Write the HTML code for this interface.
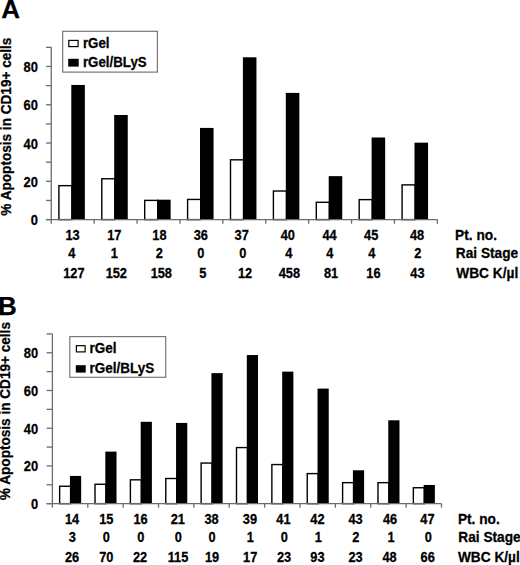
<!DOCTYPE html>
<html><head><meta charset="utf-8"><style>
html,body{margin:0;padding:0;background:#fff;}
body{width:520px;height:565px;overflow:hidden;}
svg{display:block;}
.b{font-family:"Liberation Sans",sans-serif;font-weight:bold;fill:#000;stroke:#000;stroke-width:0.25px;}
</style></head><body>
<svg width="520" height="565" viewBox="0 0 520 565">
<rect width="520" height="565" fill="#fff"/>
<text x="1.3" y="17.8" font-size="26" class="b">A</text>
<text transform="translate(11.3,126.65) rotate(-90) scale(1,1.08)" text-anchor="middle" font-size="13.6" class="b">% Apoptosis in CD19+ cells</text>
<rect x="58.90" y="185.66" width="13.10" height="33.94" fill="#fff" stroke="#000" stroke-width="1.4"/>
<rect x="71.30" y="84.95" width="13.55" height="134.65" fill="#000"/>
<rect x="101.80" y="178.77" width="13.10" height="40.83" fill="#fff" stroke="#000" stroke-width="1.4"/>
<rect x="114.20" y="115.00" width="13.55" height="104.60" fill="#000"/>
<rect x="144.70" y="200.39" width="13.10" height="19.21" fill="#fff" stroke="#000" stroke-width="1.4"/>
<rect x="157.10" y="199.69" width="13.55" height="19.91" fill="#000"/>
<rect x="187.60" y="199.44" width="13.10" height="20.16" fill="#fff" stroke="#000" stroke-width="1.4"/>
<rect x="200.00" y="127.92" width="13.55" height="91.68" fill="#000"/>
<rect x="230.50" y="159.82" width="13.10" height="59.78" fill="#fff" stroke="#000" stroke-width="1.4"/>
<rect x="242.90" y="57.29" width="13.55" height="162.31" fill="#000"/>
<rect x="273.40" y="191.02" width="13.10" height="28.58" fill="#fff" stroke="#000" stroke-width="1.4"/>
<rect x="285.80" y="92.89" width="13.55" height="126.71" fill="#000"/>
<rect x="316.30" y="202.31" width="13.10" height="17.29" fill="#fff" stroke="#000" stroke-width="1.4"/>
<rect x="328.70" y="176.15" width="13.55" height="43.45" fill="#000"/>
<rect x="359.20" y="199.63" width="13.10" height="19.97" fill="#fff" stroke="#000" stroke-width="1.4"/>
<rect x="371.60" y="137.49" width="13.55" height="82.11" fill="#000"/>
<rect x="402.10" y="184.89" width="13.10" height="34.71" fill="#fff" stroke="#000" stroke-width="1.4"/>
<rect x="414.50" y="142.66" width="13.55" height="76.94" fill="#000"/>
<line x1="51.25" y1="47.34" x2="51.25" y2="223.7" stroke="#6b6b6b" stroke-width="1.3"/>
<line x1="46.05" y1="219.6" x2="437.34999999999997" y2="219.6" stroke="#6b6b6b" stroke-width="1.3"/>
<line x1="46.05" y1="219.60" x2="51.25" y2="219.60" stroke="#6b6b6b" stroke-width="1.3"/>
<line x1="46.05" y1="200.46" x2="51.25" y2="200.46" stroke="#6b6b6b" stroke-width="1.3"/>
<line x1="46.05" y1="181.32" x2="51.25" y2="181.32" stroke="#6b6b6b" stroke-width="1.3"/>
<line x1="46.05" y1="162.18" x2="51.25" y2="162.18" stroke="#6b6b6b" stroke-width="1.3"/>
<line x1="46.05" y1="143.04" x2="51.25" y2="143.04" stroke="#6b6b6b" stroke-width="1.3"/>
<line x1="46.05" y1="123.90" x2="51.25" y2="123.90" stroke="#6b6b6b" stroke-width="1.3"/>
<line x1="46.05" y1="104.76" x2="51.25" y2="104.76" stroke="#6b6b6b" stroke-width="1.3"/>
<line x1="46.05" y1="85.62" x2="51.25" y2="85.62" stroke="#6b6b6b" stroke-width="1.3"/>
<line x1="46.05" y1="66.48" x2="51.25" y2="66.48" stroke="#6b6b6b" stroke-width="1.3"/>
<line x1="46.05" y1="47.34" x2="51.25" y2="47.34" stroke="#6b6b6b" stroke-width="1.3"/>
<line x1="94.15" y1="219.6" x2="94.15" y2="223.7" stroke="#6b6b6b" stroke-width="1.3"/>
<line x1="137.05" y1="219.6" x2="137.05" y2="223.7" stroke="#6b6b6b" stroke-width="1.3"/>
<line x1="179.95" y1="219.6" x2="179.95" y2="223.7" stroke="#6b6b6b" stroke-width="1.3"/>
<line x1="222.85" y1="219.6" x2="222.85" y2="223.7" stroke="#6b6b6b" stroke-width="1.3"/>
<line x1="265.75" y1="219.6" x2="265.75" y2="223.7" stroke="#6b6b6b" stroke-width="1.3"/>
<line x1="308.65" y1="219.6" x2="308.65" y2="223.7" stroke="#6b6b6b" stroke-width="1.3"/>
<line x1="351.55" y1="219.6" x2="351.55" y2="223.7" stroke="#6b6b6b" stroke-width="1.3"/>
<line x1="394.45" y1="219.6" x2="394.45" y2="223.7" stroke="#6b6b6b" stroke-width="1.3"/>
<line x1="437.35" y1="219.6" x2="437.35" y2="223.7" stroke="#6b6b6b" stroke-width="1.3"/>
<text transform="translate(37.90,225.10) scale(1.0,1.1)" text-anchor="end" font-size="12.9" class="b">0</text>
<text transform="translate(37.90,186.82) scale(1.0,1.1)" text-anchor="end" font-size="12.9" class="b">20</text>
<text transform="translate(37.90,148.54) scale(1.0,1.1)" text-anchor="end" font-size="12.9" class="b">40</text>
<text transform="translate(37.90,110.26) scale(1.0,1.1)" text-anchor="end" font-size="12.9" class="b">60</text>
<text transform="translate(37.90,71.98) scale(1.0,1.1)" text-anchor="end" font-size="12.9" class="b">80</text>
<rect x="62.7" y="31.3" width="94.7" height="40.8" fill="#fff" stroke="#777" stroke-width="1.2"/>
<rect x="68.8" y="40.4" width="9.3" height="6.2000000000000055" fill="#fff" stroke="#000" stroke-width="1.2"/>
<rect x="68.2" y="58.8" width="10.5" height="7.799999999999997" fill="#000"/>
<text transform="translate(82.90,47.60) scale(1.0,1.06)" font-size="13.3" class="b">rGel</text>
<text transform="translate(82.90,66.60) scale(1.0,1.06)" font-size="13.3" class="b">rGel/BLyS</text>
<text transform="translate(72.50,239.60) scale(1.0,1.1)" text-anchor="middle" font-size="12.8" class="b">13</text>
<text transform="translate(114.30,239.60) scale(1.0,1.1)" text-anchor="middle" font-size="12.8" class="b">17</text>
<text transform="translate(159.40,239.60) scale(1.0,1.1)" text-anchor="middle" font-size="12.8" class="b">18</text>
<text transform="translate(200.80,239.60) scale(1.0,1.1)" text-anchor="middle" font-size="12.8" class="b">36</text>
<text transform="translate(241.70,239.60) scale(1.0,1.1)" text-anchor="middle" font-size="12.8" class="b">37</text>
<text transform="translate(287.80,239.60) scale(1.0,1.1)" text-anchor="middle" font-size="12.8" class="b">40</text>
<text transform="translate(329.60,239.60) scale(1.0,1.1)" text-anchor="middle" font-size="12.8" class="b">44</text>
<text transform="translate(371.20,239.60) scale(1.0,1.1)" text-anchor="middle" font-size="12.8" class="b">45</text>
<text transform="translate(417.00,239.60) scale(1.0,1.1)" text-anchor="middle" font-size="12.8" class="b">48</text>
<text transform="translate(455.10,239.60) scale(1.0,1.06)" font-size="13.7" class="b">Pt. no.</text>
<text transform="translate(71.90,257.50) scale(1.0,1.1)" text-anchor="middle" font-size="12.8" class="b">4</text>
<text transform="translate(114.30,257.50) scale(1.0,1.1)" text-anchor="middle" font-size="12.8" class="b">1</text>
<text transform="translate(159.20,257.50) scale(1.0,1.1)" text-anchor="middle" font-size="12.8" class="b">2</text>
<text transform="translate(200.80,257.50) scale(1.0,1.1)" text-anchor="middle" font-size="12.8" class="b">0</text>
<text transform="translate(242.80,257.50) scale(1.0,1.1)" text-anchor="middle" font-size="12.8" class="b">0</text>
<text transform="translate(288.70,257.50) scale(1.0,1.1)" text-anchor="middle" font-size="12.8" class="b">4</text>
<text transform="translate(329.90,257.50) scale(1.0,1.1)" text-anchor="middle" font-size="12.8" class="b">4</text>
<text transform="translate(371.90,257.50) scale(1.0,1.1)" text-anchor="middle" font-size="12.8" class="b">4</text>
<text transform="translate(417.70,257.50) scale(1.0,1.1)" text-anchor="middle" font-size="12.8" class="b">2</text>
<text transform="translate(455.80,257.50) scale(1.0,1.06)" font-size="13.7" class="b">Rai Stage</text>
<text transform="translate(73.90,277.70) scale(1.0,1.1)" text-anchor="middle" font-size="12.8" class="b">127</text>
<text transform="translate(116.30,277.70) scale(1.0,1.1)" text-anchor="middle" font-size="12.8" class="b">152</text>
<text transform="translate(161.30,277.70) scale(1.0,1.1)" text-anchor="middle" font-size="12.8" class="b">158</text>
<text transform="translate(202.90,277.70) scale(1.0,1.1)" text-anchor="middle" font-size="12.8" class="b">5</text>
<text transform="translate(245.00,277.70) scale(1.0,1.1)" text-anchor="middle" font-size="12.8" class="b">12</text>
<text transform="translate(289.40,277.70) scale(1.0,1.1)" text-anchor="middle" font-size="12.8" class="b">458</text>
<text transform="translate(331.10,277.70) scale(1.0,1.1)" text-anchor="middle" font-size="12.8" class="b">81</text>
<text transform="translate(373.40,277.70) scale(1.0,1.1)" text-anchor="middle" font-size="12.8" class="b">16</text>
<text transform="translate(417.40,277.70) scale(1.0,1.1)" text-anchor="middle" font-size="12.8" class="b">43</text>
<text transform="translate(456.30,277.70) scale(1.0,1.06)" font-size="13.7" class="b">WBC K/µl</text>
<text x="-1.9" y="314.5" font-size="26" class="b">B</text>
<text transform="translate(10.3,411.1) rotate(-90) scale(1,1.08)" text-anchor="middle" font-size="13.6" class="b">% Apoptosis in CD19+ cells</text>
<rect x="59.65" y="486.24" width="11.00" height="17.41" fill="#fff" stroke="#000" stroke-width="1.4"/>
<rect x="69.95" y="475.93" width="11.20" height="27.72" fill="#000"/>
<rect x="95.02" y="484.26" width="11.00" height="19.39" fill="#fff" stroke="#000" stroke-width="1.4"/>
<rect x="105.32" y="451.60" width="11.20" height="52.05" fill="#000"/>
<rect x="130.39" y="479.83" width="11.00" height="23.82" fill="#fff" stroke="#000" stroke-width="1.4"/>
<rect x="140.69" y="421.80" width="11.20" height="81.85" fill="#000"/>
<rect x="165.76" y="478.51" width="11.00" height="25.14" fill="#fff" stroke="#000" stroke-width="1.4"/>
<rect x="176.06" y="422.93" width="11.20" height="80.72" fill="#000"/>
<rect x="201.13" y="463.05" width="11.00" height="40.60" fill="#fff" stroke="#000" stroke-width="1.4"/>
<rect x="211.43" y="373.14" width="11.20" height="130.51" fill="#000"/>
<rect x="236.50" y="447.58" width="11.00" height="56.07" fill="#fff" stroke="#000" stroke-width="1.4"/>
<rect x="246.80" y="355.03" width="11.20" height="148.62" fill="#000"/>
<rect x="271.87" y="464.56" width="11.00" height="39.09" fill="#fff" stroke="#000" stroke-width="1.4"/>
<rect x="282.17" y="371.63" width="11.20" height="132.02" fill="#000"/>
<rect x="307.24" y="473.61" width="11.00" height="30.04" fill="#fff" stroke="#000" stroke-width="1.4"/>
<rect x="317.54" y="388.60" width="11.20" height="115.05" fill="#000"/>
<rect x="342.61" y="482.66" width="11.00" height="20.99" fill="#fff" stroke="#000" stroke-width="1.4"/>
<rect x="352.91" y="470.27" width="11.20" height="33.38" fill="#000"/>
<rect x="377.98" y="482.66" width="11.00" height="20.99" fill="#fff" stroke="#000" stroke-width="1.4"/>
<rect x="388.28" y="420.29" width="11.20" height="83.36" fill="#000"/>
<rect x="413.35" y="487.75" width="11.00" height="15.90" fill="#fff" stroke="#000" stroke-width="1.4"/>
<rect x="423.65" y="484.98" width="11.20" height="18.67" fill="#000"/>
<line x1="52.4" y1="333.90999999999997" x2="52.4" y2="507.65" stroke="#6b6b6b" stroke-width="1.3"/>
<line x1="46.6" y1="503.65" x2="441.46999999999997" y2="503.65" stroke="#6b6b6b" stroke-width="1.3"/>
<line x1="46.6" y1="503.65" x2="52.4" y2="503.65" stroke="#6b6b6b" stroke-width="1.3"/>
<line x1="46.6" y1="484.79" x2="52.4" y2="484.79" stroke="#6b6b6b" stroke-width="1.3"/>
<line x1="46.6" y1="465.93" x2="52.4" y2="465.93" stroke="#6b6b6b" stroke-width="1.3"/>
<line x1="46.6" y1="447.07" x2="52.4" y2="447.07" stroke="#6b6b6b" stroke-width="1.3"/>
<line x1="46.6" y1="428.21" x2="52.4" y2="428.21" stroke="#6b6b6b" stroke-width="1.3"/>
<line x1="46.6" y1="409.35" x2="52.4" y2="409.35" stroke="#6b6b6b" stroke-width="1.3"/>
<line x1="46.6" y1="390.49" x2="52.4" y2="390.49" stroke="#6b6b6b" stroke-width="1.3"/>
<line x1="46.6" y1="371.63" x2="52.4" y2="371.63" stroke="#6b6b6b" stroke-width="1.3"/>
<line x1="46.6" y1="352.77" x2="52.4" y2="352.77" stroke="#6b6b6b" stroke-width="1.3"/>
<line x1="46.6" y1="333.91" x2="52.4" y2="333.91" stroke="#6b6b6b" stroke-width="1.3"/>
<line x1="87.77" y1="503.65" x2="87.77" y2="507.65" stroke="#6b6b6b" stroke-width="1.3"/>
<line x1="123.14" y1="503.65" x2="123.14" y2="507.65" stroke="#6b6b6b" stroke-width="1.3"/>
<line x1="158.51" y1="503.65" x2="158.51" y2="507.65" stroke="#6b6b6b" stroke-width="1.3"/>
<line x1="193.88" y1="503.65" x2="193.88" y2="507.65" stroke="#6b6b6b" stroke-width="1.3"/>
<line x1="229.25" y1="503.65" x2="229.25" y2="507.65" stroke="#6b6b6b" stroke-width="1.3"/>
<line x1="264.62" y1="503.65" x2="264.62" y2="507.65" stroke="#6b6b6b" stroke-width="1.3"/>
<line x1="299.99" y1="503.65" x2="299.99" y2="507.65" stroke="#6b6b6b" stroke-width="1.3"/>
<line x1="335.36" y1="503.65" x2="335.36" y2="507.65" stroke="#6b6b6b" stroke-width="1.3"/>
<line x1="370.73" y1="503.65" x2="370.73" y2="507.65" stroke="#6b6b6b" stroke-width="1.3"/>
<line x1="406.10" y1="503.65" x2="406.10" y2="507.65" stroke="#6b6b6b" stroke-width="1.3"/>
<line x1="441.47" y1="503.65" x2="441.47" y2="507.65" stroke="#6b6b6b" stroke-width="1.3"/>
<text transform="translate(38.20,509.15) scale(1.0,1.1)" text-anchor="end" font-size="12.9" class="b">0</text>
<text transform="translate(38.20,471.43) scale(1.0,1.1)" text-anchor="end" font-size="12.9" class="b">20</text>
<text transform="translate(38.20,433.71) scale(1.0,1.1)" text-anchor="end" font-size="12.9" class="b">40</text>
<text transform="translate(38.20,395.99) scale(1.0,1.1)" text-anchor="end" font-size="12.9" class="b">60</text>
<text transform="translate(38.20,358.27) scale(1.0,1.1)" text-anchor="end" font-size="12.9" class="b">80</text>
<rect x="69.8" y="336.6" width="95.89999999999999" height="40.69999999999999" fill="#fff" stroke="#777" stroke-width="1.2"/>
<rect x="76.39999999999999" y="345.70000000000005" width="8.700000000000006" height="6.199999999999977" fill="#fff" stroke="#000" stroke-width="1.2"/>
<rect x="75.8" y="365.2" width="9.900000000000006" height="7.400000000000034" fill="#000"/>
<text transform="translate(89.40,353.10) scale(1.0,1.06)" font-size="13.5" class="b">rGel</text>
<text transform="translate(89.40,372.60) scale(1.0,1.06)" font-size="13.5" class="b">rGel/BLyS</text>
<text transform="translate(72.10,523.60) scale(1.0,1.1)" text-anchor="middle" font-size="12.8" class="b">14</text>
<text transform="translate(106.30,523.60) scale(1.0,1.1)" text-anchor="middle" font-size="12.8" class="b">15</text>
<text transform="translate(140.60,523.60) scale(1.0,1.1)" text-anchor="middle" font-size="12.8" class="b">16</text>
<text transform="translate(177.80,523.60) scale(1.0,1.1)" text-anchor="middle" font-size="12.8" class="b">21</text>
<text transform="translate(211.60,523.60) scale(1.0,1.1)" text-anchor="middle" font-size="12.8" class="b">38</text>
<text transform="translate(249.90,523.60) scale(1.0,1.1)" text-anchor="middle" font-size="12.8" class="b">39</text>
<text transform="translate(283.40,523.60) scale(1.0,1.1)" text-anchor="middle" font-size="12.8" class="b">41</text>
<text transform="translate(317.40,523.60) scale(1.0,1.1)" text-anchor="middle" font-size="12.8" class="b">42</text>
<text transform="translate(355.50,523.60) scale(1.0,1.1)" text-anchor="middle" font-size="12.8" class="b">43</text>
<text transform="translate(390.00,523.60) scale(1.0,1.1)" text-anchor="middle" font-size="12.8" class="b">46</text>
<text transform="translate(427.40,523.60) scale(1.0,1.1)" text-anchor="middle" font-size="12.8" class="b">47</text>
<text transform="translate(457.90,523.60) scale(1.0,1.06)" font-size="13.7" class="b">Pt. no.</text>
<text transform="translate(72.40,541.90) scale(1.0,1.1)" text-anchor="middle" font-size="12.8" class="b">3</text>
<text transform="translate(106.40,541.90) scale(1.0,1.1)" text-anchor="middle" font-size="12.8" class="b">0</text>
<text transform="translate(140.70,541.90) scale(1.0,1.1)" text-anchor="middle" font-size="12.8" class="b">0</text>
<text transform="translate(178.20,541.90) scale(1.0,1.1)" text-anchor="middle" font-size="12.8" class="b">0</text>
<text transform="translate(212.00,541.90) scale(1.0,1.1)" text-anchor="middle" font-size="12.8" class="b">0</text>
<text transform="translate(250.40,541.90) scale(1.0,1.1)" text-anchor="middle" font-size="12.8" class="b">1</text>
<text transform="translate(284.20,541.90) scale(1.0,1.1)" text-anchor="middle" font-size="12.8" class="b">0</text>
<text transform="translate(318.20,541.90) scale(1.0,1.1)" text-anchor="middle" font-size="12.8" class="b">1</text>
<text transform="translate(355.90,541.90) scale(1.0,1.1)" text-anchor="middle" font-size="12.8" class="b">2</text>
<text transform="translate(391.00,541.90) scale(1.0,1.1)" text-anchor="middle" font-size="12.8" class="b">1</text>
<text transform="translate(428.20,541.90) scale(1.0,1.1)" text-anchor="middle" font-size="12.8" class="b">0</text>
<text transform="translate(458.30,541.90) scale(1.0,1.06)" font-size="13.7" class="b">Rai Stage</text>
<text transform="translate(72.00,561.60) scale(1.0,1.1)" text-anchor="middle" font-size="12.8" class="b">26</text>
<text transform="translate(106.30,561.60) scale(1.0,1.1)" text-anchor="middle" font-size="12.8" class="b">70</text>
<text transform="translate(140.10,561.60) scale(1.0,1.1)" text-anchor="middle" font-size="12.8" class="b">22</text>
<text transform="translate(178.00,561.60) scale(1.0,1.1)" text-anchor="middle" font-size="12.8" class="b">115</text>
<text transform="translate(212.00,561.60) scale(1.0,1.1)" text-anchor="middle" font-size="12.8" class="b">19</text>
<text transform="translate(250.20,561.60) scale(1.0,1.1)" text-anchor="middle" font-size="12.8" class="b">17</text>
<text transform="translate(284.10,561.60) scale(1.0,1.1)" text-anchor="middle" font-size="12.8" class="b">23</text>
<text transform="translate(317.40,561.60) scale(1.0,1.1)" text-anchor="middle" font-size="12.8" class="b">93</text>
<text transform="translate(355.50,561.60) scale(1.0,1.1)" text-anchor="middle" font-size="12.8" class="b">23</text>
<text transform="translate(389.60,561.60) scale(1.0,1.1)" text-anchor="middle" font-size="12.8" class="b">48</text>
<text transform="translate(427.70,561.60) scale(1.0,1.1)" text-anchor="middle" font-size="12.8" class="b">66</text>
<text transform="translate(457.90,561.60) scale(1.0,1.06)" font-size="13.7" class="b">WBC K/µl</text>
</svg>
</body></html>
